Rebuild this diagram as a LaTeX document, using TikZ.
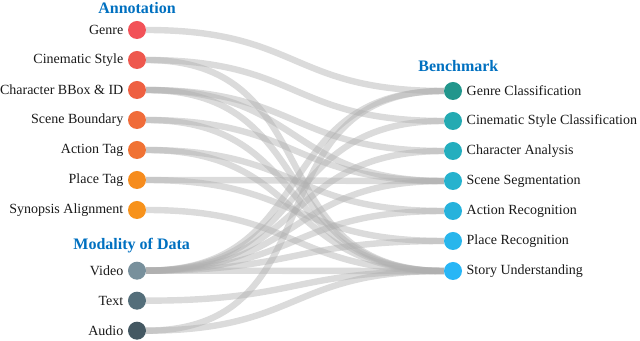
\documentclass[tikz,border=0pt]{standalone}
\usepackage{fontspec}
\setmainfont{Liberation Serif}
\usetikzlibrary{
  positioning,
  backgrounds
}
\definecolor{HeadBlue}{RGB}{0,112,192}
\definecolor{LinkGray}{RGB}{175,175,175}
\definecolor{GenreRed}{RGB}{242,82,88}
\definecolor{StyleRed}{RGB}{238,88,78}
\definecolor{CharRed}{RGB}{238,96,66}
\definecolor{SceneOrange}{RGB}{240,108,58}
\definecolor{ActionOrange}{RGB}{240,114,52}
\definecolor{PlaceOrange}{RGB}{246,140,30}
\definecolor{SynopsisOrange}{RGB}{247,146,28}
\definecolor{VideoGray}{RGB}{120,144,156}
\definecolor{TextGray}{RGB}{84,110,122}
\definecolor{AudioGray}{RGB}{68,88,98}
\definecolor{GenreTeal}{RGB}{34,150,140}
\definecolor{StyleTeal}{RGB}{36,170,178}
\definecolor{CharTeal}{RGB}{36,174,190}
\definecolor{SceneCyan}{RGB}{38,178,206}
\definecolor{ActionCyan}{RGB}{38,178,220}
\definecolor{PlaceCyan}{RGB}{40,182,236}
\definecolor{StoryCyan}{RGB}{40,182,246}
\tikzset{
  dot/.style={circle, minimum size=13.5pt, inner sep=0pt, outer sep=0pt},
  labeltext/.style={font=\fontsize{10.5}{12}\selectfont, text=black!90},
  annot/.style 2 args={dot, fill=#2, label={[labeltext]left:#1}},
  bench/.style 2 args={dot, fill=#2, label={[labeltext]right:#1}},
  headtext/.style={font=\bfseries\fontsize{12}{14}\selectfont, text=HeadBlue},
  link/.style={draw=LinkGray, opacity=0.45, line width=4.8pt, out=0, in=180, looseness=1.3}
}

\begin{document}
\begin{tikzpicture}[x=0.75pt, y=-0.75pt, node distance=9pt]
  \useasboundingbox (0,0) rectangle (640,341);
  % annotation and modality column
  \node[annot={Genre}{GenreRed}] (genre) at (137,30) {};
  \node[annot={Cinematic Style}{StyleRed}, below=of genre] (style) {};
  \node[annot={Character BBox \& ID}{CharRed}, below=of style] (char) {};
  \node[annot={Scene Boundary}{SceneOrange}, below=of char] (scene) {};
  \node[annot={Action Tag}{ActionOrange}, below=of scene] (action) {};
  \node[annot={Place Tag}{PlaceOrange}, below=of action] (place) {};
  \node[annot={Synopsis Alignment}{SynopsisOrange}, below=of place] (synopsis) {};
  \node[annot={Video}{VideoGray}, below=32pt of synopsis] (video) {};
  \node[annot={Text}{TextGray}, below=of video] (text) {};
  \node[annot={Audio}{AudioGray}, below=of text] (audio) {};
  % benchmark column
  \node[bench={Genre Classification}{GenreTeal}] (genrecls) at (453,91) {};
  \node[bench={Cinematic Style Classification}{StyleTeal}, below=of genrecls] (stylecls) {};
  \node[bench={Character Analysis}{CharTeal}, below=of stylecls] (charana) {};
  \node[bench={Scene Segmentation}{SceneCyan}, below=of charana] (sceneseg) {};
  \node[bench={Action Recognition}{ActionCyan}, below=of sceneseg] (actionrec) {};
  \node[bench={Place Recognition}{PlaceCyan}, below=of actionrec] (placerec) {};
  \node[bench={Story Understanding}{StoryCyan}, below=of placerec] (story) {};

  \node[headtext, above=2pt of genre] (annohead) {Annotation};
  \node[headtext, above=3pt of video, xshift=-4pt] (modhead) {Modality of Data};
  \node[headtext, above=4pt of genrecls, xshift=4pt] (benchhead) {Benchmark};

  \begin{scope}[on background layer]
    \draw[link] (genre) to (genrecls);
    \draw[link] (style) to (stylecls);
    \draw[link] (style) to (story);
    \draw[link] (char) to (charana);
    \draw[link] (char) to (sceneseg);
    \draw[link] (char) to (story);
    \draw[link] (scene) to (sceneseg);
    \draw[link] (scene) to (story);
    \draw[link] (action) to (actionrec);
    \draw[link] (action) to (story);
    \draw[link] (place) to (sceneseg);
    \draw[link] (place) to (placerec);
    \draw[link] (synopsis) to (story);
    \draw[link] (video) to (genrecls);
    \draw[link] (video) to (stylecls);
    \draw[link] (video) to (charana);
    \draw[link] (video) to (sceneseg);
    \draw[link] (video) to (actionrec);
    \draw[link] (video) to (placerec);
    \draw[link] (video) to (story);
    \draw[link] (text) to (story);
    \draw[link] (audio) to (genrecls);
    \draw[link] (audio) to (story);
  \end{scope}
\end{tikzpicture}
\end{document}
